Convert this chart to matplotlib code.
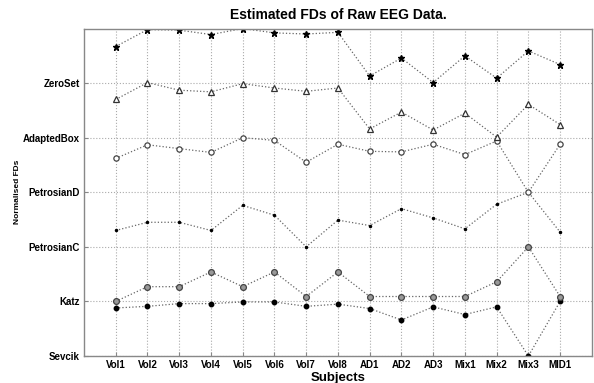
import matplotlib
matplotlib.use("Agg")
import matplotlib.pyplot as plt

plt.rcParams["font.family"] = ["Liberation Sans", "DejaVu Sans"]

subjects = ["Vol1", "Vol2", "Vol3", "Vol4", "Vol5", "Vol6", "Vol7", "Vol8",
            "AD1", "AD2", "AD3", "Mix1", "Mix2", "Mix3", "MID1"]
methods = ["Sevcik", "Katz", "PetrosianC", "PetrosianD", "AdaptedBox", "ZeroSet"]

# normalised FDs, each method offset by its row on the y axis
sevcik = [0.88, 0.91, 0.96, 0.96, 0.99, 0.99, 0.91, 0.95, 0.87, 0.66, 0.90, 0.76, 0.90, 0.0, 1.0]
katz = [1.0, 1.27, 1.27, 1.54, 1.27, 1.54, 1.09, 1.54, 1.09, 1.09, 1.09, 1.09, 1.36, 2.0, 1.09]
petrosian_c = [2.30, 2.45, 2.45, 2.30, 2.76, 2.58, 2.0, 2.49, 2.39, 2.70, 2.53, 2.33, 2.78, 3.0, 2.27]
petrosian_d = [3.62, 3.87, 3.80, 3.73, 4.0, 3.95, 3.55, 3.88, 3.75, 3.74, 3.88, 3.69, 3.94, 3.0, 3.88]
adapted_box = [4.70, 5.01, 4.87, 4.84, 4.99, 4.91, 4.85, 4.91, 4.16, 4.47, 4.14, 4.45, 4.01, 4.61, 4.24]
zero_set = [5.67, 5.98, 5.97, 5.89, 6.0, 5.92, 5.90, 5.93, 5.13, 5.46, 5.01, 5.50, 5.09, 5.59, 5.34]

x = list(range(1, len(subjects) + 1))

fig = plt.figure(figsize=(5.94, 3.83), dpi=100)
ax = fig.add_axes([0.1414, 0.0705, 0.855, 0.855])

ln = dict(linestyle=":", color="#666666", linewidth=0.9)
ax.plot(x, sevcik, marker="o", markersize=3.2, markerfacecolor="black",
        markeredgecolor="black", **ln)
ax.plot(x, katz, marker="o", markersize=4.2, markerfacecolor="#999999",
        markeredgecolor="#444444", markeredgewidth=0.9, **ln)
ax.plot(x, petrosian_c, marker=".", markersize=3, markerfacecolor="black",
        markeredgecolor="black", **ln)
ax.plot(x, petrosian_d, marker="o", markersize=3.8, markerfacecolor="white",
        markeredgecolor="#444444", markeredgewidth=0.9, **ln)
ax.plot(x, adapted_box, marker="^", markersize=4.2, markerfacecolor="white",
        markeredgecolor="#333333", markeredgewidth=0.9, **ln)
ax.plot(x, zero_set, marker="*", markersize=4.5, markerfacecolor="black",
        markeredgecolor="black", **ln)

ax.set_xlim(0, 16)
ax.set_ylim(0, 6)
ax.set_xticks(x)
ax.set_xticklabels(subjects, fontsize=7, fontweight="bold")
ax.set_yticks(range(len(methods)))
ax.set_yticklabels(methods, fontsize=7, fontweight="bold")
ax.tick_params(direction="in", length=3, color="#888888", pad=3)
ax.grid(True, linestyle=":", color="#aaaaaa", linewidth=0.8)
for s in ax.spines.values():
    s.set_color("#888888")
    s.set_linewidth(1.0)

ax.set_title("Estimated FDs of Raw EEG Data.", fontsize=10, fontweight="bold", pad=7)
ax.set_xlabel("Subjects", fontsize=9.5, fontweight="bold")
ax.xaxis.set_label_coords(0.5, -0.049)
ax.set_ylabel("Normalised FDs", fontsize=6, fontweight="bold")
ax.yaxis.set_label_coords(-0.125, 0.5)

fig.savefig("out.png", dpi=100)
